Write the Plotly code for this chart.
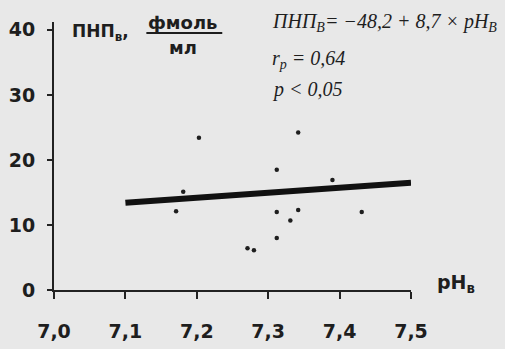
import plotly.graph_objects as go

# data
ph = [7.203, 7.181, 7.171, 7.271, 7.280, 7.312, 7.342, 7.390, 7.312, 7.342, 7.331, 7.431, 7.312]
pnp = [23.4, 15.1, 12.1, 6.4, 6.1, 18.5, 24.2, 16.9, 12.0, 12.3, 10.7, 12.0, 8.0]
fit_x = [7.1, 7.5]
fit_y = [13.4, 16.5]
x_ticks = [7.0, 7.1, 7.2, 7.3, 7.4, 7.5]
x_ticktext = ["7,0", "7,1", "7,2", "7,3", "7,4", "7,5"]
y_ticks = [0, 10, 20, 30, 40]
y_ticktext = ["0", "10", "20", "30", "40"]

W, H = 505, 349
L, R, T, B = 53.5, 94, 22, 59
pw, ph_ = W - L - R, H - T - B

def px(x):
    return (x - L) / pw

def py(y):
    return (H - B - y) / ph_

BG = "#e8e8e8"
INK = "#1e1e1e"
SANS = "DejaVu Sans"
SERIF = "Liberation Serif"

fig = go.Figure()
fig.add_trace(go.Scatter(x=fit_x, y=fit_y, mode="lines",
                         line=dict(color="#111111", width=6), hoverinfo="skip"))
fig.add_trace(go.Scatter(x=ph, y=pnp, mode="markers",
                         marker=dict(color=INK, size=4.5, line=dict(width=0))))

fig.update_layout(
    width=W, height=H, showlegend=False,
    paper_bgcolor=BG, plot_bgcolor=BG,
    margin=dict(l=L, r=R, t=T, b=B, autoexpand=False),
    font=dict(family=SANS, color=INK),
)
fig.update_xaxes(range=[7.0, 7.5], tickvals=x_ticks, ticktext=x_ticktext, automargin=False,
                 showgrid=False, zeroline=False, showline=True, linecolor="#222", linewidth=2,
                 ticks="outside", ticklen=7, tickwidth=1.5, tickcolor="#222",
                 tickfont=dict(family=SANS, size=19, color=INK, weight="bold"),
                 ticklabelstandoff=16)
fig.update_yaxes(range=[0, 41.2], tickvals=y_ticks, ticktext=y_ticktext, automargin=False,
                 showgrid=False, zeroline=False, showline=True, linecolor="#222", linewidth=2,
                 ticks="outside", ticklen=5, tickwidth=1.5, tickcolor="#222",
                 tickfont=dict(family=SANS, size=19, color=INK, weight="bold"),
                 ticklabelstandoff=8)

ann = []
ann.append(dict(x=px(70), y=py(33), xref="paper", yref="paper", xanchor="left", yanchor="middle",
                text="ПНП<sub>в</sub>,", showarrow=False,
                font=dict(family=SANS, size=17, color=INK, weight="bold")))
ann.append(dict(x=px(183), y=py(22), xref="paper", yref="paper", xanchor="center", yanchor="middle",
                text="фмоль", showarrow=False,
                font=dict(family=SANS, size=18, color=INK, weight="bold")))
ann.append(dict(x=px(183), y=py(47), xref="paper", yref="paper", xanchor="center", yanchor="middle",
                text="мл", showarrow=False,
                font=dict(family=SANS, size=18, color=INK, weight="bold")))
ann.append(dict(x=px(456), y=py(283), xref="paper", yref="paper", xanchor="center", yanchor="middle",
                text="pH<sub>в</sub>", showarrow=False,
                font=dict(family=SANS, size=19, color=INK, weight="bold")))
ann.append(dict(x=px(270), y=py(23), xref="paper", yref="paper", xanchor="left", yanchor="middle",
                text="<i>ПНП<sub>В</sub>= −48,2 + 8,7 × pH<sub>В</sub></i>", showarrow=False,
                font=dict(family=SERIF, size=20, color=INK)))
ann.append(dict(x=px(270), y=py(59), xref="paper", yref="paper", xanchor="left", yanchor="middle",
                text="<i>r<sub>p</sub> = 0,64</i>", showarrow=False,
                font=dict(family=SERIF, size=20, color=INK)))
ann.append(dict(x=px(270), y=py(89), xref="paper", yref="paper", xanchor="left", yanchor="middle",
                text="<i>p &lt; 0,05</i>", showarrow=False,
                font=dict(family=SERIF, size=20, color=INK)))
fig.update_layout(annotations=ann)

fig.add_shape(type="line", xref="paper", yref="paper",
              x0=px(146), x1=px(222), y0=py(33), y1=py(33),
              line=dict(color=INK, width=2))

fig.write_html("out.html")
